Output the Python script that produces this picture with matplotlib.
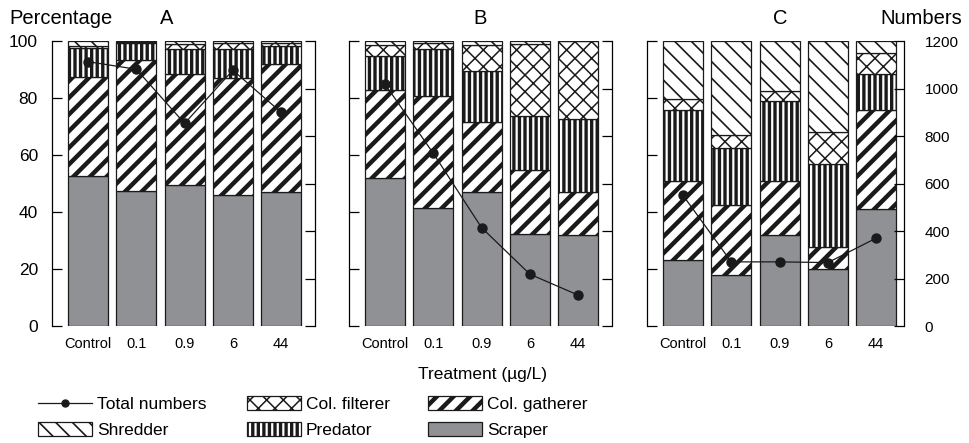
import numpy as np
import matplotlib
matplotlib.use("Agg")
import matplotlib.pyplot as plt
import matplotlib.patches as mpatches
from matplotlib.lines import Line2D

plt.rcParams['font.family'] = ['Liberation Sans', 'DejaVu Sans']

# ---- data ----
treatments = ["Control", "0.1", "0.9", "6", "44"]
groups = ["Scraper", "Col. gatherer", "Predator", "Col. filterer", "Shredder"]
panels = ["A", "B", "C"]

# percentage of each functional group, bottom -> top
scraper_A = [52.5, 47.5, 49.6, 45.8, 47.0]
gatherer_A = [34.9, 46.0, 38.8, 41.3, 44.8]
predator_A = [10.1, 5.7, 8.9, 10.0, 6.5]
filterer_A = [0.7, 0.4, 1.5, 2.3, 1.1]
shredder_A = [1.8, 0.4, 1.2, 0.6, 0.6]
total_A = [1113, 1081, 853, 1077, 899]

scraper_B = [51.8, 41.3, 47.0, 32.2, 31.8]
gatherer_B = [30.9, 39.4, 24.6, 22.5, 15.2]
predator_B = [12.1, 16.6, 17.9, 19.0, 25.7]
filterer_B = [3.7, 1.9, 9.1, 25.1, 27.3]
shredder_B = [1.5, 0.8, 1.4, 1.2, 0.0]
total_B = [1018, 727, 414, 218, 130]

scraper_C = [23.1, 17.9, 31.9, 20.0, 41.2]
gatherer_C = [27.7, 24.5, 18.9, 7.8, 34.5]
predator_C = [24.9, 20.1, 28.1, 29.2, 12.6]
filterer_C = [4.1, 4.4, 3.5, 10.9, 7.6]
shredder_C = [20.2, 33.1, 17.6, 32.1, 4.1]
total_C = [550, 270, 270, 267, 370]

panel_data = {
    "A": ([scraper_A, gatherer_A, predator_A, filterer_A, shredder_A], total_A),
    "B": ([scraper_B, gatherer_B, predator_B, filterer_B, shredder_B], total_B),
    "C": ([scraper_C, gatherer_C, predator_C, filterer_C, shredder_C], total_C),
}

# fill style per group: (facecolor, hatch, hatch linewidth)
styles = {
    "Scraper": ("#909195", None, 1.0),
    "Col. gatherer": ("white", "//", 3.2),
    "Predator": ("white", "|||", 2.4),
    "Col. filterer": ("white", "xx", 1.1),
    "Shredder": ("white", "\\\\", 1.2),
}

W, H = 969, 443
fig = plt.figure(figsize=(W / 100, H / 100), dpi=100)

pitch = 48.3
xlo = -0.75
xhis = [4.70, 4.70, 4.57]
first_centers = [88, 385, 683]
y_top, y_bot = 41, 326


def px_rect(left, top, width, height):
    return [left / W, 1 - (top + height) / H, width / W, height / H]


x = np.arange(len(treatments))
for i, name in enumerate(panels):
    left = first_centers[i] + xlo * pitch
    ax = fig.add_axes(px_rect(left, y_top, (xhis[i] - xlo) * pitch, y_bot - y_top))
    segs, totals = panel_data[name]
    bottom = np.zeros(len(treatments))
    for g, vals in zip(groups, segs):
        fc, hatch, hlw = styles[g]
        with plt.rc_context({'hatch.linewidth': hlw}):
            bars = ax.bar(x, vals, width=0.83, bottom=bottom, color=fc,
                          edgecolor="#1a1a1a", linewidth=0.9, hatch=hatch)
        for b in bars:
            if hasattr(b, "set_hatch_linewidth"):
                b.set_hatch_linewidth(hlw)
        bottom += np.array(vals)

    ax.set_xlim(xlo, xhis[i])
    ax.set_ylim(0, 100)
    ax.set_yticks([0, 20, 40, 60, 80, 100])
    ax.set_xticks(x)
    ax.set_xticklabels(treatments, fontsize=10.5)
    ax.tick_params(axis="x", length=0, pad=8)
    ax.tick_params(axis="y", direction="in", length=7, width=0.9,
                   labelsize=12.5, pad=10)
    for s in ["top", "bottom"]:
        ax.spines[s].set_visible(False)
    ax.spines["left"].set_linewidth(0.9)
    ax.spines["right"].set_visible(False)
    if i > 0:
        ax.set_yticklabels([])

    ax2 = ax.twinx()
    ax2.plot(x, totals, color="#1a1a1a", linewidth=0.9, marker="o",
             markersize=6.5, zorder=5)
    ax2.set_ylim(0, 1200)
    ax2.set_yticks(np.arange(0, 1201, 200))
    ax2.tick_params(axis="y", direction="in", length=7, width=0.9,
                    labelsize=11, pad=15)
    for s in ["top", "bottom", "left"]:
        ax2.spines[s].set_visible(False)
    ax2.spines["right"].set_linewidth(0.9)
    if i < 2:
        ax2.set_yticklabels([])

# titles
fig.text(9 / W, 1 - 19 / H, "Percentage", fontsize=14.5, va="center", ha="left")
for lab, px in zip(panels, [167, 480, 780]):
    fig.text(px / W, 1 - 19 / H, lab, fontsize=14.5, va="center", ha="center")
fig.text(962 / W, 1 - 19 / H, "Numbers", fontsize=14.5, va="center", ha="right")
fig.text(482 / W, 1 - 375 / H, "Treatment (\u00b5g/L)", fontsize=12.5,
         va="center", ha="center")

# legend, one entry at a time so each hatch keeps its own line width
line_handle = Line2D([], [], color="#1a1a1a", linewidth=0.9, marker="o",
                     markersize=5)
legend_pos = {
    "Total numbers": (38, 404),
    "Shredder": (38, 430),
    "Col. filterer": (247, 404),
    "Predator": (247, 430),
    "Col. gatherer": (428, 404),
    "Scraper": (428, 430),
}
for lab, (lx, ly) in legend_pos.items():
    if lab == "Total numbers":
        h = line_handle
        hlw = 1.0
    else:
        fc, hatch, hlw = styles[lab]
        with plt.rc_context({'hatch.linewidth': hlw}):
            h = mpatches.Patch(facecolor=fc, edgecolor="#1a1a1a",
                               linewidth=0.9, hatch=hatch)
    with plt.rc_context({'hatch.linewidth': hlw}):
        leg = fig.legend([h], [lab], loc="center left",
                         bbox_to_anchor=(lx / W, 1 - ly / H), frameon=False,
                         borderpad=0, borderaxespad=0, handlelength=3.1,
                         handleheight=0.9, handletextpad=0.3, fontsize=12.5)
    for p in leg.get_patches():
        if hasattr(p, "set_hatch_linewidth"):
            p.set_hatch_linewidth(hlw)

fig.savefig("out.png", dpi=100)
